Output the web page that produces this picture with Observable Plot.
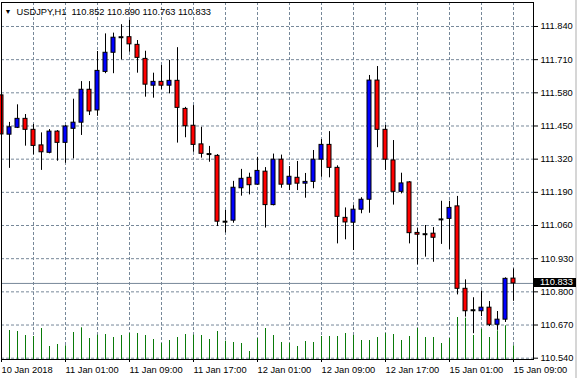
<!DOCTYPE html>
<html><head><meta charset="utf-8">
<script src="https://cdn.jsdelivr.net/npm/d3@7"></script>
<script src="https://cdn.jsdelivr.net/npm/@observablehq/plot@0.6"></script>
<style>
html,body{margin:0;padding:0;background:#fff;}
#chart{position:relative;width:579px;height:378px;overflow:hidden;background:#fff;}
#chart svg{position:absolute;left:0;top:0;}
#edge{position:absolute;left:575px;top:0;width:2px;height:378px;background:#d6d6d6;}
</style></head><body><div id="chart"><div id="edge"></div></div>
<script>
const symbol = "USDJPY";
const timeframe = "H1";
const opens = [
111.570,111.416,111.443,111.478,111.435,111.374,111.345,111.428,111.384,111.439,
111.463,111.592,111.511,111.662,111.737,111.798,111.798,111.768,111.713,111.608,
111.623,111.608,111.627,111.517,111.451,111.378,111.340,111.333,111.075,111.079,
111.206,111.247,111.220,111.271,111.140,111.318,111.220,111.247,111.224,111.231,
111.318,111.376,111.286,111.090,111.071,111.122,111.161,111.628,111.435,111.315,
111.192,111.229,111.031,111.026,111.028,111.084,111.086,111.135,110.812,110.728,
110.724,110.738,110.671,110.691,110.852];
const highs = [
111.597,111.464,111.533,111.495,111.456,111.423,111.436,111.432,111.452,111.555,
111.624,111.624,111.742,111.811,111.814,111.847,111.864,111.785,111.743,111.657,
111.687,111.707,111.757,111.523,111.530,111.445,111.370,111.338,111.119,111.233,
111.280,111.265,111.327,111.287,111.340,111.336,111.291,111.311,111.264,111.354,
111.397,111.428,111.294,111.129,111.138,111.169,111.648,111.683,111.452,111.393,
111.265,111.232,111.048,111.060,111.052,111.155,111.155,111.174,110.847,110.777,
110.803,110.762,110.723,110.855,110.890];
const lows = [
111.295,111.284,111.440,111.371,111.337,111.276,111.341,111.312,111.304,111.321,
111.413,111.491,111.488,111.655,111.655,111.709,111.739,111.657,111.563,111.559,
111.592,111.576,111.383,111.404,111.347,111.324,111.308,111.056,111.031,111.069,
111.175,111.180,111.217,111.050,111.137,111.206,111.197,111.197,111.167,111.204,
111.249,111.247,110.988,111.004,110.962,111.106,111.108,111.365,111.276,111.140,
111.184,110.988,110.906,110.936,110.916,110.986,110.966,110.788,110.701,110.636,
110.703,110.664,110.649,110.680,110.763];
const closes = [
111.417,111.445,111.478,111.435,111.372,111.347,111.428,111.384,111.448,111.463,
111.592,111.507,111.666,111.737,111.796,111.798,111.770,111.717,111.612,111.623,
111.608,111.627,111.521,111.449,111.376,111.341,111.340,111.075,111.075,111.208,
111.243,111.218,111.274,111.140,111.318,111.220,111.251,111.224,111.231,111.318,
111.376,111.286,111.094,111.072,111.122,111.161,111.628,111.435,111.318,111.192,
111.225,111.030,111.024,111.026,111.012,111.084,111.129,110.812,110.724,110.728,
110.738,110.671,110.691,110.851,110.833];
const volumes = [
1435,1450,1400,1200,1150,1550,650,750,685,1350,
1585,1050,1215,1250,1100,1200,1300,1300,1200,1000,
800,950,1100,1250,1215,1200,1000,1400,915,850,
800,400,1050,1550,1200,850,800,650,900,850,
1150,1150,1150,1300,1200,950,950,1100,1300,1250,
950,1150,1550,1100,1100,800,1050,2100,2065,1200,
1515,1100,1435,1685,685];
const priceTicks = [111.840,111.710,111.580,111.450,111.320,111.190,111.060,110.930,110.800,110.670,110.540];
const timeTickIndex = [0,8,16,24,32,40,48,56,64];
const timeTickLabels = ["10 Jan 2018","11 Jan 01:00","11 Jan 09:00","11 Jan 17:00","12 Jan 01:00","12 Jan 09:00","12 Jan 17:00","15 Jan 01:00","15 Jan 09:00"];
const gridIndex = [0,4,8,12,16,20,24,28,32,36,40,44,48,52,56,60,64];

const bars = opens.map((o,i)=>({i, open:o, high:highs[i], low:lows[i], close:closes[i], volume:volumes[i]}));
const last = bars[bars.length-1];
const bulls = bars.filter(d=>d.close>d.open);
const bears = bars.filter(d=>d.close<d.open);
const dojis = bars.filter(d=>d.close===d.open);
const f3 = d3.format(".3f");

const FONT = "'Liberation Sans', Arial, sans-serif";
const FS = 9.3;
const common = {
  width:579, height:378, marginLeft:1, marginRight:46, marginTop:2, marginBottom:19,
  style:{background:"transparent", fontFamily:FONT, fontSize:FS+"px", color:"#000", overflow:"visible"}
};
const xOpt = {domain:[0,66.5], axis:null};
const priceDomain = [110.5349, 111.934];
const gridColor = "#778899";

const chart = document.getElementById("chart");

// layer 1: grid
const gridPlot = Plot.plot({
  ...common,
  x: xOpt, y: {domain: priceDomain, axis:null},
  marks: [
    Plot.ruleY(priceTicks, {stroke:gridColor, strokeDasharray:"3,2"}),
    Plot.ruleX(gridIndex, {stroke:gridColor, strokeDasharray:"3,2"})
  ]
});
chart.appendChild(gridPlot);

// layer 2: tick volumes
const volPlot = Plot.plot({
  ...common,
  x: xOpt, y: {domain:[0,2500], range:[359,309], axis:null},
  marks: [
    Plot.ruleX(bars, {x:"i", y1:0, y2:"volume", stroke:"#0a7a0a", strokeWidth:1})
  ]
});
chart.appendChild(volPlot);

// layer 3: candles, axes, header
const header = `${symbol},${timeframe}\u00a0\u00a0${f3(last.open)} ${f3(last.high)} ${f3(last.low)} ${f3(last.close)}`;
const pricePlot = Plot.plot({
  ...common,
  x: {domain:[0,66.5]}, y: {domain: priceDomain},
  marks: [
    Plot.ruleY([last.close], {stroke:gridColor}),
    Plot.ruleX(bars, {x:"i", y1:"low", y2:"high", stroke:"#000"}),
    Plot.rect(bulls, {x1:d=>d.i-0.25, x2:d=>d.i+0.25, y1:"open", y2:"close", fill:"#0000ff", stroke:"#000"}),
    Plot.rect(bears, {x1:d=>d.i-0.25, x2:d=>d.i+0.25, y1:"open", y2:"close", fill:"#ff0000", stroke:"#000"}),
    Plot.ruleY(dojis, {y:"close", x1:d=>d.i-0.3, x2:d=>d.i+0.3, stroke:"#000", strokeWidth:2}),
    Plot.frame({stroke:"#000"}),
    Plot.axisY(priceTicks, {anchor:"right", tickSize:4, tickPadding:3, tickFormat:f3, label:null, fontSize:FS}),
    Plot.axisX(timeTickIndex, {anchor:"bottom", tickSize:3, tickPadding:4, textAnchor:"start", dx:0,
      tickFormat:d=>timeTickLabels[timeTickIndex.indexOf(d)], label:null, fontSize:FS}),
    Plot.text(["\u25BC"], {frameAnchor:"top-left", dx:3, dy:7, lineAnchor:"top", textAnchor:"start", fontSize:7, fill:"#000"}),
    Plot.text([header], {frameAnchor:"top-left", dx:15, dy:6, lineAnchor:"top", textAnchor:"start", fontSize:FS, fill:"#000"})
  ]
});
chart.appendChild(pricePlot);

// current price tag on the right axis
const ys = pricePlot.scale("y");
const yTag = Math.round(ys.apply(last.close));
const svgNS = "http://www.w3.org/2000/svg";
const g = document.createElementNS(svgNS, "g");
const r = document.createElementNS(svgNS, "rect");
const xTag = 579 - 46 + 1;
r.setAttribute("x", xTag); r.setAttribute("y", yTag - 5);
r.setAttribute("width", 42); r.setAttribute("height", 9); r.setAttribute("fill", "#000");
const t = document.createElementNS(svgNS, "text");
t.setAttribute("x", xTag + 6); t.setAttribute("y", yTag - 0.5);
t.setAttribute("dy", "0.32em"); t.setAttribute("fill", "#fff"); t.setAttribute("text-anchor", "start");
t.setAttribute("font-size", FS); t.setAttribute("font-family", FONT);
t.textContent = f3(last.close);
g.appendChild(r); g.appendChild(t);
pricePlot.appendChild(g);
</script></body></html>
